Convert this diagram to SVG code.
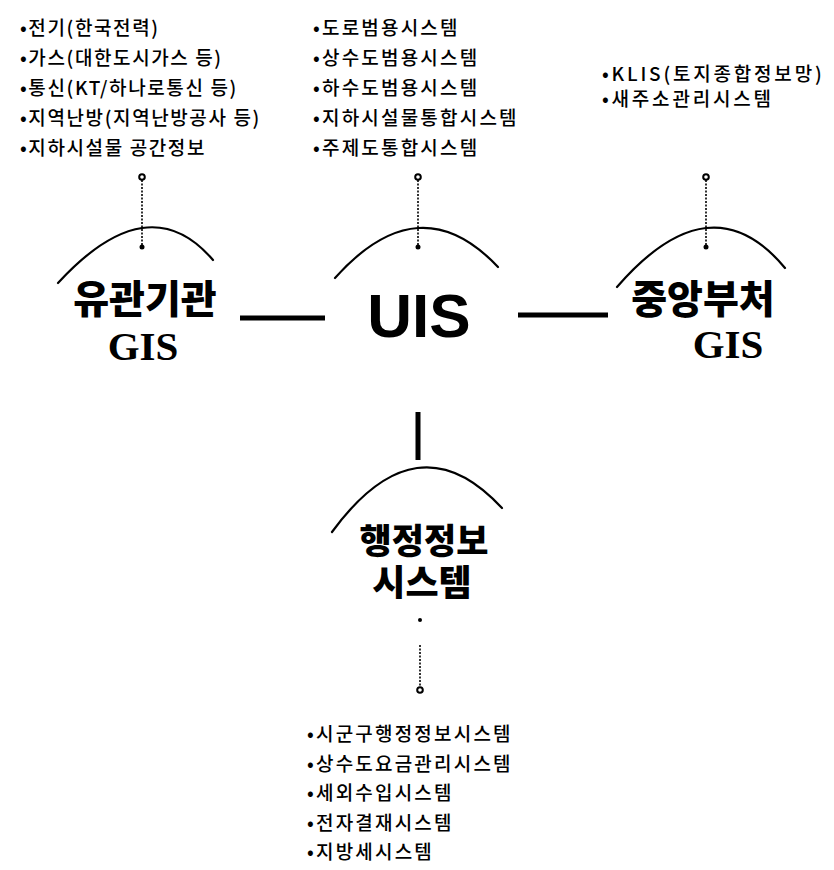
<svg xmlns="http://www.w3.org/2000/svg" width="834" height="870" viewBox="0 0 834 870">
<style>
.lst{font-family:"Noto Sans CJK KR","Noto Sans",sans-serif;font-size:19px;font-weight:500;fill:#000}
.ttl{font-family:"Noto Sans CJK KR","Noto Sans",sans-serif;font-weight:900;fill:#000;text-anchor:middle}
.gis{font-family:"Liberation Serif","DejaVu Serif",serif;font-weight:bold;font-size:41px;fill:#000;text-anchor:middle}
.uis{font-family:"Liberation Sans","Arial",sans-serif;font-weight:bold;font-size:62px;fill:#000;text-anchor:middle}
.arc{fill:none;stroke:#000;stroke-width:2.2;stroke-linecap:round}
.dot{fill:none;stroke:#000;stroke-width:2}
.dash{stroke:#000;stroke-width:1.6;stroke-dasharray:2 1.5;fill:none}
.thick{stroke:#000;stroke-width:5;fill:none}
.star{fill:#000}
</style>
<rect width="834" height="870" fill="#fff"/>

<g id="list-left" class="lst" letter-spacing="1.6">
<text x="20" y="35">•전기(한국전력)</text>
<text x="20" y="65">•가스(대한도시가스 등)</text>
<text x="20" y="95">•통신(KT/하나로통신 등)</text>
<text x="20" y="125">•지역난방(지역난방공사 등)</text>
<text x="20" y="155">•지하시설물 공간정보</text>
</g>

<g id="list-center" class="lst" letter-spacing="2.2">
<text x="313" y="35">•도로범용시스템</text>
<text x="313" y="65">•상수도범용시스템</text>
<text x="313" y="95">•하수도범용시스템</text>
<text x="313" y="125">•지하시설물통합시스템</text>
<text x="313" y="155">•주제도통합시스템</text>
</g>

<g id="list-right" class="lst" letter-spacing="2.8">
<text x="602" y="81">•KLIS(토지종합정보망)</text>
<text x="602" y="106">•새주소관리시스템</text>
</g>

<g id="list-bottom" class="lst" letter-spacing="2.2">
<text x="307" y="741">•시군구행정정보시스템</text>
<text x="307" y="770.5">•상수도요금관리시스템</text>
<text x="307" y="800">•세외수입시스템</text>
<text x="307" y="829.5">•전자결재시스템</text>
<text x="307" y="859">•지방세시스템</text>
</g>

<g id="node-yugwan">
<path class="arc" d="M58,283 Q148.5,184.5 213,260"/>
<text class="ttl" x="145" y="313" font-size="39">유관기관</text>
<text class="gis" x="143" y="360">GIS</text>
</g>

<g id="node-uis">
<path class="arc" d="M335,278 Q419.5,183.5 498,267"/>
<text class="uis" x="419" y="337">UIS</text>
</g>

<g id="node-jungang">
<path class="arc" d="M617,287 Q711,178.5 785,268"/>
<text class="ttl" x="703" y="313" font-size="39">중앙부처</text>
<text class="gis" x="728" y="358">GIS</text>
</g>

<g id="node-haengjeong">
<path class="arc" d="M332,532 Q417,416 502,508"/>
<text class="ttl" font-size="35"><tspan x="424" y="554">행정정보</tspan><tspan x="422" y="596" font-size="36">시스템</tspan></text>
</g>

<g id="connectors">
<line class="thick" x1="240" y1="318" x2="325" y2="318"/>
<line class="thick" x1="518" y1="315" x2="608" y2="315"/>
<line class="thick" x1="418" y1="412" x2="418" y2="460"/>
<line class="dash" x1="142" y1="180" x2="142" y2="245"/>
<circle class="dot" cx="142" cy="177" r="2.8"/>
<circle class="star" cx="142" cy="247" r="2.5"/>
<line class="dash" x1="418" y1="180" x2="418" y2="245"/>
<circle class="dot" cx="418" cy="177" r="2.8"/>
<circle class="star" cx="418" cy="247" r="2.5"/>
<line class="dash" x1="706" y1="180" x2="706" y2="245"/>
<circle class="dot" cx="706" cy="177" r="2.8"/>
<circle class="star" cx="706" cy="247" r="2.5"/>
<circle class="star" cx="420" cy="620" r="2"/>
<line class="dash" x1="420" y1="645" x2="420" y2="687"/>
<circle class="dot" cx="420" cy="690" r="2.8"/>
</g>
</svg>
